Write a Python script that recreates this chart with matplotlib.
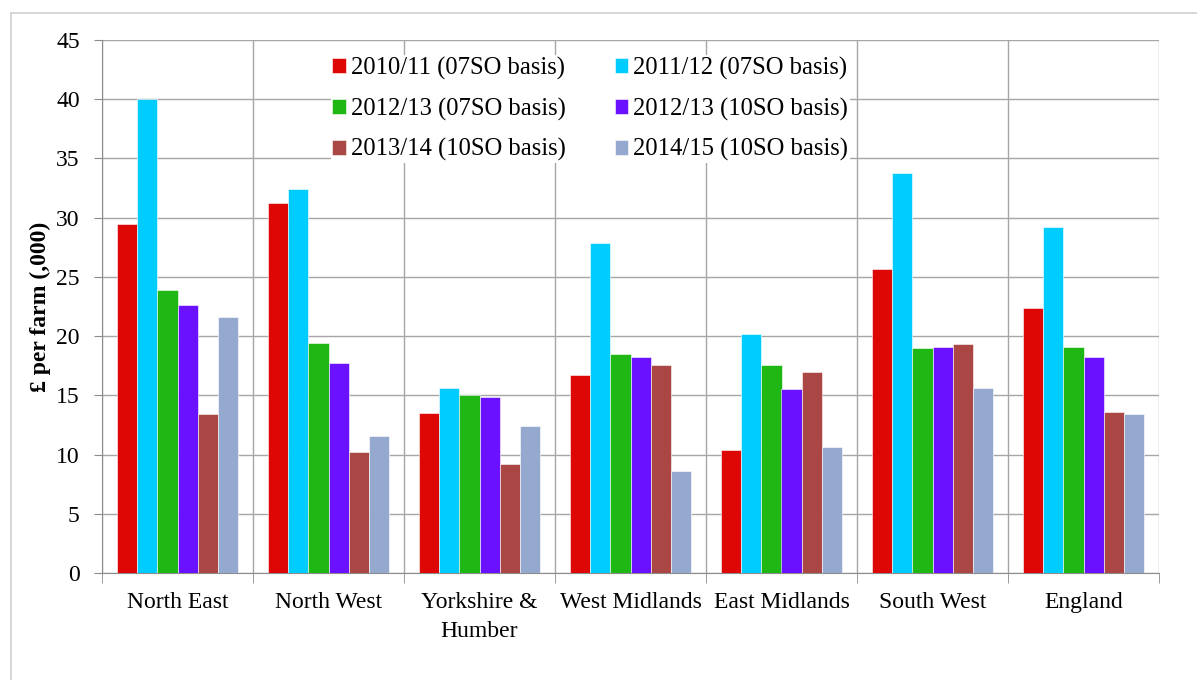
import numpy as np
import matplotlib
matplotlib.use('Agg')
import matplotlib.pyplot as plt
from matplotlib.lines import Line2D

regions = ['North East', 'North West', 'Yorkshire &\nHumber', 'West Midlands',
           'East Midlands', 'South West', 'England']
series_names = ['2010/11 (07SO basis)', '2011/12 (07SO basis)',
                '2012/13 (07SO basis)', '2012/13 (10SO basis)',
                '2013/14 (10SO basis)', '2014/15 (10SO basis)']
v_2010_07 = [29.5, 31.2, 13.5, 16.7, 10.4, 25.7, 22.4]
v_2011_07 = [40.0, 32.4, 15.6, 27.9, 20.2, 33.8, 29.2]
v_2012_07 = [23.9, 19.4, 15.0, 18.5, 17.6, 19.0, 19.1]
v_2012_10 = [22.6, 17.7, 14.9, 18.2, 15.5, 19.1, 18.2]
v_2013_10 = [13.4, 10.2, 9.2, 17.6, 17.0, 19.3, 13.6]
v_2014_10 = [21.6, 11.6, 12.4, 8.6, 10.6, 15.6, 13.4]
values = [v_2010_07, v_2011_07, v_2012_07, v_2012_10, v_2013_10, v_2014_10]
colors = ['#DD0806', '#00CCFF', '#1FB714', '#6A11FF', '#AA4643', '#95A9CF']

plt.rcParams['font.family'] = ['Liberation Serif', 'DejaVu Serif']

fig = plt.figure(figsize=(11.97, 6.8), dpi=100)
ax = fig.add_axes([102 / 1197, 1 - 573 / 680, 1057 / 1197, 533 / 680])

# outer chart border
fig.add_artist(Line2D([11 / 1197, 1.0], [1 - 13 / 680, 1 - 13 / 680],
                      transform=fig.transFigure, color='#cfcfcf', lw=1.2))
fig.add_artist(Line2D([11 / 1197, 11 / 1197], [0, 1 - 13 / 680],
                      transform=fig.transFigure, color='#cfcfcf', lw=1.2))

x = np.arange(len(regions))
n = len(values)
w = 0.8 / n
bars = []
for i, (vals, c, name) in enumerate(zip(values, colors, series_names)):
    b = ax.bar(x - 0.4 + w * (i + 0.5), vals, width=w, color=c, label=name,
               edgecolor='white', linewidth=0.4, zorder=3)
    bars.append(b)

ax.set_xlim(-0.5, len(regions) - 0.5)
ax.set_ylim(0, 45)
ax.set_yticks(np.arange(0, 46, 5))
ax.set_xticks(x)
ax.set_xticklabels(regions, fontsize=17, linespacing=1.45)
ax.set_xticks(np.arange(-0.5, len(regions)), minor=True)
ax.tick_params(axis='x', which='major', length=0, pad=14)
ax.tick_params(axis='x', which='minor', length=7, color='#8c8c8c')
ax.tick_params(axis='y', length=6, color='#8c8c8c', labelsize=17, pad=10)

ax.grid(axis='y', color='#a6a6a6', lw=1.0, zorder=0)
ax.grid(axis='x', which='minor', color='#a6a6a6', lw=1.0, zorder=0)
for s in ['top', 'right']:
    ax.spines[s].set_visible(False)
ax.spines['left'].set_color('#8c8c8c')
ax.spines['bottom'].set_color('#8c8c8c')

ax.set_ylabel('£ per farm (,000)', fontsize=17, fontweight='bold', labelpad=4)

# row-major order for a 2-column legend
order = [0, 2, 4, 1, 3, 5]
leg = ax.legend([bars[i] for i in order], [series_names[i] for i in order],
                loc='upper center', bbox_to_anchor=(0.462, 0.994), ncol=2,
                fontsize=17.7, frameon=True, framealpha=1, edgecolor='none',
                handlelength=0.55, handleheight=0.55, handletextpad=0.2,
                columnspacing=2.0, labelspacing=0.72, borderpad=0.05,
                fancybox=False)
leg.set_zorder(5)

fig.savefig('out.png', dpi=100)
